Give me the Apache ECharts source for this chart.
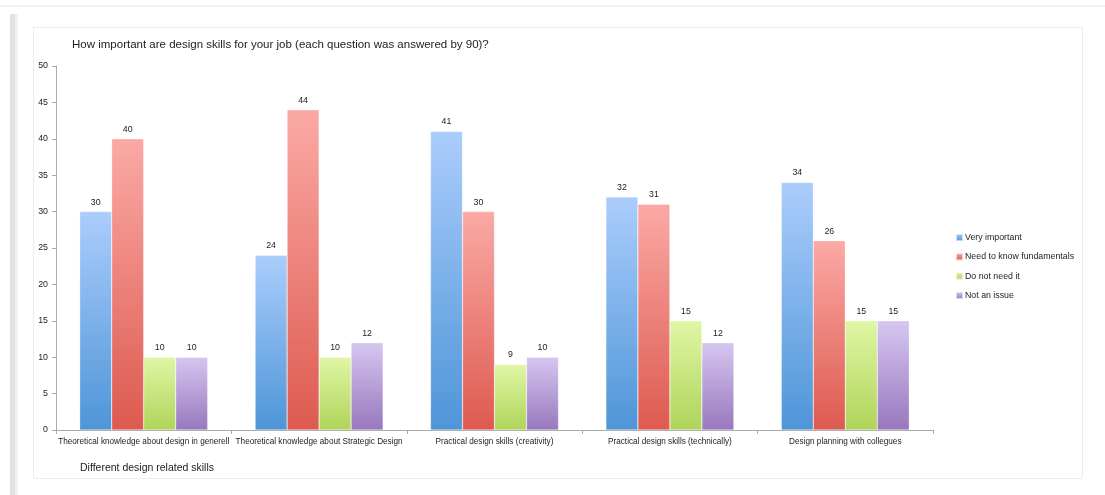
<!DOCTYPE html>
<html><head><meta charset="utf-8">
<script src="https://cdn.jsdelivr.net/npm/echarts@6/dist/echarts.min.js"></script>
<style>html,body{margin:0;padding:0;background:#fff}#c{width:1105px;height:495px}</style>
</head><body><div id="c"></div>
<script>
const categories = ["Theoretical knowledge about design in generell","Theoretical knowledge about Strategic Design","Practical design skills (creativity)","Practical design skills (technically)","Design planning with collegues"];
const seriesNames = ["Very important","Need to know fundamentals","Do not need it","Not an issue"];
const veryImportant = [30,24,41,32,34];
const needFundamentals = [40,44,30,31,26];
const doNotNeed = [10,10,9,15,15];
const notAnIssue = [10,12,10,12,15];
const yTicks = [0,5,10,15,20,25,30,35,40,45,50];

const values = [veryImportant, needFundamentals, doNotNeed, notAnIssue];
const grads = [["#abcdfc","#4e95d8"],["#fba9a5","#dd5a4f"],["#e0f6a4","#afd45a"],["#d6c6f0","#9878be"]];
const solid = ["#6fa8e8","#eb7b73","#c6e47f","#b49bd8"];
const FONT = "'Liberation Sans',Arial,sans-serif";

const chart = echarts.init(document.getElementById('c'));
chart.setOption({
  animation:false,
  backgroundColor:'#fff',
  color:solid,
  graphic:[
    {type:'rect',left:0,top:5,shape:{width:1105,height:2},style:{fill:'#f3f3f3'},z:-10},
    {type:'rect',left:10,top:14,shape:{width:5,height:481},style:{fill:'#e2e2e2'},z:-10},
    {type:'rect',left:15,top:14,shape:{width:3,height:481},style:{fill:'#f0f0f0'},z:-10},
    {type:'rect',left:33,top:27,shape:{width:1049,height:451},style:{fill:'#fff',stroke:'#ececec',lineWidth:1},z:-9}
  ],
  title:{text:'How important are design skills for your job (each question was answered by 90)?',left:72,top:39,padding:0,
    textStyle:{fontFamily:FONT,fontSize:11.5,fontWeight:'normal',color:'#222'}},
  legend:{orient:'vertical',left:955,top:233,itemWidth:7,itemHeight:7,itemGap:10.3,icon:'rect',padding:0,
    data:seriesNames,textStyle:{fontFamily:FONT,fontSize:8.8,color:'#222',padding:[0,0,0,-3]}},
  grid:{left:56,right:172,top:66,bottom:65,containLabel:false},
  xAxis:{type:'category',data:categories,name:'Different design related skills',nameLocation:'start',
    nameGap:0,nameTextStyle:{fontFamily:FONT,fontSize:10.5,color:'#222',align:'left',verticalAlign:'top',padding:[33,0,0,24]},
    axisLine:{lineStyle:{color:'#aaa'}},axisTick:{show:true,length:4,lineStyle:{color:'#aaa'}},
    axisLabel:{fontFamily:FONT,fontSize:8.2,color:'#222',margin:8,interval:0}},
  yAxis:{type:'value',min:0,max:50,interval:5,
    axisLine:{show:true,lineStyle:{color:'#aaa'}},axisTick:{show:true,length:4,lineStyle:{color:'#aaa'}},
    splitLine:{show:false},
    axisLabel:{fontFamily:FONT,fontSize:8.8,color:'#222',margin:8,
      formatter:v=>yTicks.includes(v)?String(v):''}},
  series:values.map((vals,i)=>({
    name:seriesNames[i],type:'bar',data:vals,barWidth:32,barGap:'0%',
    itemStyle:{color:{type:'linear',x:0,y:0,x2:0,y2:1,colorStops:[{offset:0,color:grads[i][0]},{offset:1,color:grads[i][1]}]},
      borderColor:'rgba(255,255,255,0.6)',borderWidth:0.5},
    label:{show:true,position:'top',distance:5,fontFamily:FONT,fontSize:8.8,color:'#222'}
  }))
});
</script>
</body></html>
